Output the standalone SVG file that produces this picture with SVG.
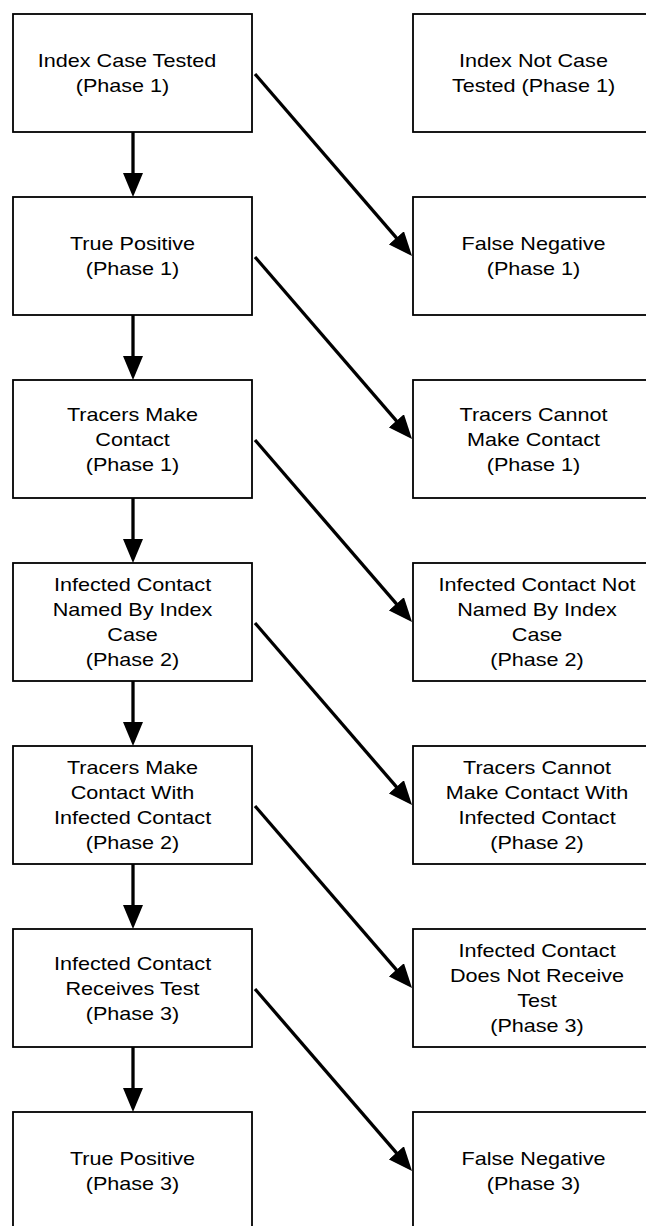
<svg xmlns="http://www.w3.org/2000/svg" width="646" height="1226" viewBox="0 0 646 1226">
<defs>
<style>
.box{fill:#fff;stroke:#000;stroke-width:1.8}
.t{font-family:"Liberation Sans",Arial,Helvetica,sans-serif;font-size:18px;fill:#000;text-anchor:middle}
.c{stroke:#000;stroke-width:3.3;fill:none;marker-end:url(#ah)}
</style>
<marker id="ah" markerUnits="userSpaceOnUse" viewBox="0 0 24 20" markerWidth="24" markerHeight="20" refX="14" refY="10" orient="auto">
<path d="M0,0 L24,10 L0,20 Z" fill="#000"/>
</marker>
</defs>
<rect width="646" height="1226" fill="#fff"/>
<g id="connectors">
<line class="c" x1="133" y1="132" x2="133" y2="187"/>
<line class="c" x1="133" y1="315" x2="133" y2="370"/>
<line class="c" x1="133" y1="498" x2="133" y2="553"/>
<line class="c" x1="133" y1="681" x2="133" y2="736"/>
<line class="c" x1="133" y1="864" x2="133" y2="919"/>
<line class="c" x1="133" y1="1047" x2="133" y2="1102"/>
<line class="c" x1="255" y1="74" x2="405.5" y2="248.4"/>
<line class="c" x1="255" y1="257" x2="405.5" y2="431.4"/>
<line class="c" x1="255" y1="440" x2="405.5" y2="614.4"/>
<line class="c" x1="255" y1="623" x2="405.5" y2="797.4"/>
<line class="c" x1="255" y1="806" x2="405.5" y2="980.4"/>
<line class="c" x1="255" y1="989" x2="405.5" y2="1163.4"/>
</g>
<g id="L1"><rect class="box" x="13" y="14" width="239" height="118"/>
<text class="t" transform="translate(127 67) scale(1.2 1)">Index Case Tested</text>
<text class="t" transform="translate(122.5 92) scale(1.2 1)">(Phase 1)</text></g>
<g id="L2"><rect class="box" x="13" y="197" width="239" height="118"/>
<text class="t" transform="translate(132.5 250) scale(1.2 1)">True Positive</text>
<text class="t" transform="translate(132.5 275) scale(1.2 1)">(Phase 1)</text></g>
<g id="L3"><rect class="box" x="13" y="380" width="239" height="118"/>
<text class="t" transform="translate(132.5 420.5) scale(1.2 1)">Tracers Make</text>
<text class="t" transform="translate(132.5 445.5) scale(1.2 1)">Contact</text>
<text class="t" transform="translate(132.5 470.5) scale(1.2 1)">(Phase 1)</text></g>
<g id="L4"><rect class="box" x="13" y="563" width="239" height="118"/>
<text class="t" transform="translate(132.5 591) scale(1.2 1)">Infected Contact</text>
<text class="t" transform="translate(132.5 616) scale(1.2 1)">Named By Index</text>
<text class="t" transform="translate(132.5 641) scale(1.2 1)">Case</text>
<text class="t" transform="translate(132.5 666) scale(1.2 1)">(Phase 2)</text></g>
<g id="L5"><rect class="box" x="13" y="746" width="239" height="118"/>
<text class="t" transform="translate(132.5 774) scale(1.2 1)">Tracers Make</text>
<text class="t" transform="translate(132.5 799) scale(1.2 1)">Contact With</text>
<text class="t" transform="translate(132.5 824) scale(1.2 1)">Infected Contact</text>
<text class="t" transform="translate(132.5 849) scale(1.2 1)">(Phase 2)</text></g>
<g id="L6"><rect class="box" x="13" y="929" width="239" height="118"/>
<text class="t" transform="translate(132.5 969.5) scale(1.2 1)">Infected Contact</text>
<text class="t" transform="translate(132.5 994.5) scale(1.2 1)">Receives Test</text>
<text class="t" transform="translate(132.5 1019.5) scale(1.2 1)">(Phase 3)</text></g>
<g id="L7"><rect class="box" x="13" y="1112" width="239" height="118"/>
<text class="t" transform="translate(132.5 1165) scale(1.2 1)">True Positive</text>
<text class="t" transform="translate(132.5 1190) scale(1.2 1)">(Phase 3)</text></g>
<g id="R1"><rect class="box" x="413" y="14" width="240" height="118"/>
<text class="t" transform="translate(533.5 67) scale(1.2 1)">Index Not Case</text>
<text class="t" transform="translate(533.5 92) scale(1.2 1)">Tested (Phase 1)</text></g>
<g id="R2"><rect class="box" x="413" y="197" width="240" height="118"/>
<text class="t" transform="translate(533.5 250) scale(1.2 1)">False Negative</text>
<text class="t" transform="translate(533.5 275) scale(1.2 1)">(Phase 1)</text></g>
<g id="R3"><rect class="box" x="413" y="380" width="240" height="118"/>
<text class="t" transform="translate(533.5 420.5) scale(1.2 1)">Tracers Cannot</text>
<text class="t" transform="translate(533.5 445.5) scale(1.2 1)">Make Contact</text>
<text class="t" transform="translate(533.5 470.5) scale(1.2 1)">(Phase 1)</text></g>
<g id="R4"><rect class="box" x="413" y="563" width="240" height="118"/>
<text class="t" transform="translate(537 591) scale(1.2 1)">Infected Contact Not</text>
<text class="t" transform="translate(537 616) scale(1.2 1)">Named By Index</text>
<text class="t" transform="translate(537 641) scale(1.2 1)">Case</text>
<text class="t" transform="translate(537 666) scale(1.2 1)">(Phase 2)</text></g>
<g id="R5"><rect class="box" x="413" y="746" width="240" height="118"/>
<text class="t" transform="translate(537 774) scale(1.2 1)">Tracers Cannot</text>
<text class="t" transform="translate(537 799) scale(1.2 1)">Make Contact With</text>
<text class="t" transform="translate(537 824) scale(1.2 1)">Infected Contact</text>
<text class="t" transform="translate(537 849) scale(1.2 1)">(Phase 2)</text></g>
<g id="R6"><rect class="box" x="413" y="929" width="240" height="118"/>
<text class="t" transform="translate(537 957) scale(1.2 1)">Infected Contact</text>
<text class="t" transform="translate(537 982) scale(1.2 1)">Does Not Receive</text>
<text class="t" transform="translate(537 1007) scale(1.2 1)">Test</text>
<text class="t" transform="translate(537 1032) scale(1.2 1)">(Phase 3)</text></g>
<g id="R7"><rect class="box" x="413" y="1112" width="240" height="118"/>
<text class="t" transform="translate(533.5 1165) scale(1.2 1)">False Negative</text>
<text class="t" transform="translate(533.5 1190) scale(1.2 1)">(Phase 3)</text></g>
</svg>
